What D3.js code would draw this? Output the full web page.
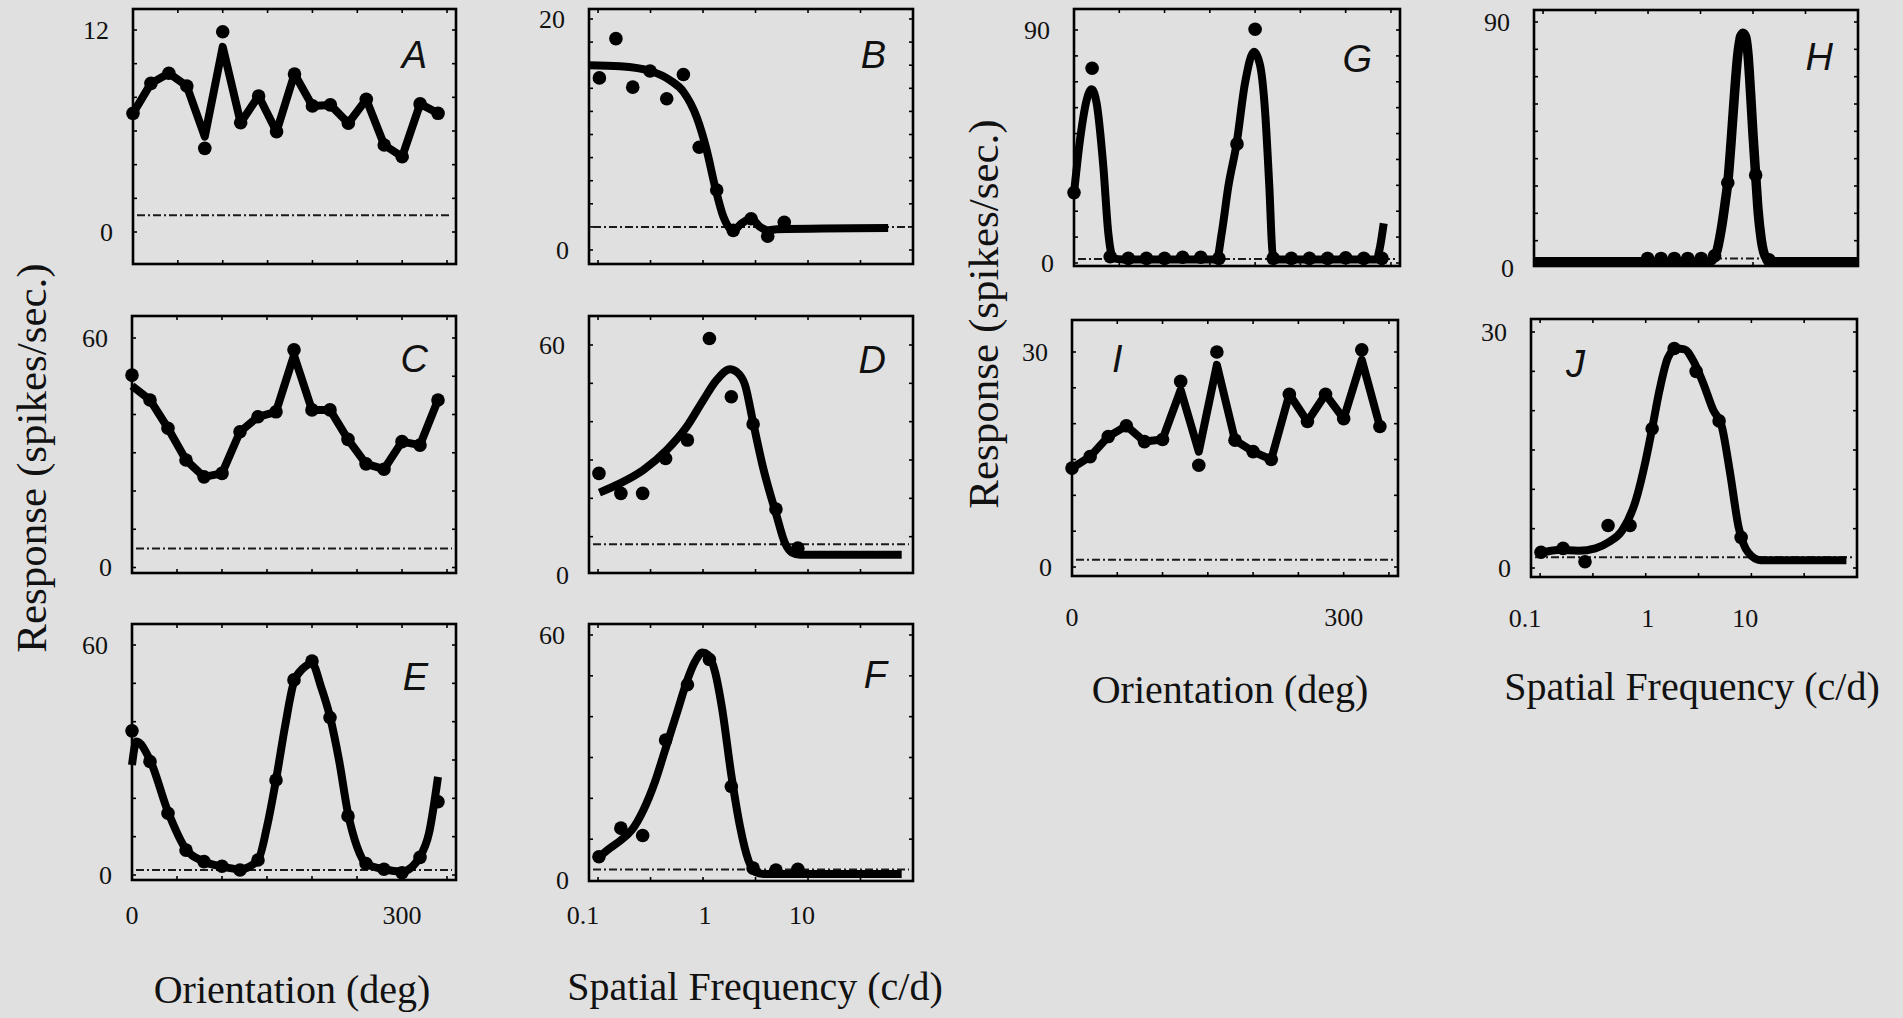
<!DOCTYPE html>
<html>
<head>
<meta charset="utf-8">
<script src="https://cdn.jsdelivr.net/npm/d3@7"></script>
<style>
  html, body { margin: 0; padding: 0; background: #e0e0e0; overflow: hidden; }
  svg { display: block; }
  .num { font-family: "Liberation Serif", "Times New Roman", serif; font-size: 26px; fill: #111; }
  .title { font-family: "Liberation Serif", "Times New Roman", serif; font-size: 40px; fill: #111; }
  .title.rot { font-size: 43px; }
  .tag { font-family: "Liberation Sans", Arial, sans-serif; font-size: 38px; font-style: italic; fill: #111; }
</style>
</head>
<body>
<script>
// ---------- Orientation tuning (deg) ----------
const orientAngles = [0, 20, 40, 60, 80, 100, 120, 140, 160, 180, 200, 220, 240, 260, 280, 300, 320, 340];

const respA = [7.05, 8.83, 9.43, 8.67, 4.97, 11.9, 6.49, 8.08, 5.96, 9.39, 7.49, 7.55, 6.46, 7.88, 5.17, 4.47, 7.61, 7.05];
const fitA  = [7.05, 8.83, 9.43, 8.67, 5.66, 11.0, 6.49, 8.08, 5.96, 9.39, 7.49, 7.55, 6.46, 7.88, 5.17, 4.47, 7.61, 7.05];
const spontA = 1.0;

const respC = [50.3, 43.8, 36.4, 28.1, 23.7, 24.6, 35.5, 39.4, 40.7, 56.9, 41.2, 41.2, 33.5, 27.1, 25.7, 32.9, 32.0, 43.8];
const fitC  = [47.5, 43.8, 36.4, 28.1, 23.7, 24.6, 35.5, 39.4, 40.7, 55.5, 41.2, 41.2, 33.5, 27.1, 25.7, 32.9, 32.0, 43.8];
const spontC = 5.0;

const respE = [37.6, 29.6, 16.1, 6.5, 3.5, 2.3, 1.3, 3.9, 24.8, 50.9, 55.8, 41.1, 15.4, 3.0, 1.5, 0.6, 4.6, 19.1];
const fitAnglesE = [0, 5, 20, 40, 60, 80, 100, 120, 140, 150, 160, 170, 180, 190, 200, 210, 220, 230, 240, 250, 260, 280, 300, 320, 330, 340];
const fitE = [28.7, 34.8, 30.0, 16.5, 6.7, 3.5, 2.2, 1.5, 3.9, 12.6, 24.8, 38.7, 50.4, 53.9, 55.2, 49.1, 41.3, 30.0, 16.1, 7.4, 3.0, 1.5, 0.9, 4.8, 10.9, 25.6];
const spontE = 1.3;

const respG = [27.2, 75.2, 2.4, 1.8, 1.8, 1.8, 2.2, 2.2, 1.8, 46.0, 90.3, 1.8, 1.8, 1.8, 1.8, 2.0, 1.8, 1.8];
const fitAnglesG = [0, 6.6, 14, 19.5, 25, 32.4, 37.9, 43.4, 54, 157.6, 163.1, 170.4, 179.6, 188.8, 198.8, 205.4, 210.9, 215.7, 219.4, 225, 334, 338, 342];
const fitG = [26.9, 47.5, 63.0, 67.1, 61.7, 37.2, 11.5, 1.8, 1.4, 1.4, 11.5, 29.5, 46.2, 69.4, 81.6, 76.5, 59.1, 29.5, 3.7, 1.4, 1.4, 6.3, 15.3];
const spontG = 1.5;

const respI = [13.8, 15.4, 18.2, 19.7, 17.5, 17.8, 25.9, 14.2, 30.0, 17.7, 16.1, 15.0, 24.1, 20.3, 24.1, 20.7, 30.3, 19.6];
const fitI  = [13.8, 15.4, 18.2, 19.7, 17.5, 17.8, 24.7, 16.1, 28.2, 17.7, 16.1, 15.0, 24.1, 20.3, 24.1, 20.7, 28.9, 19.6];
const spontI = 1.0;

// ---------- Spatial frequency tuning (c/d) ----------
const sfB   = [0.103, 0.148, 0.214, 0.313, 0.451, 0.65, 0.92, 1.35, 1.94, 2.87, 4.13, 5.94];
const respB = [14.9, 18.3, 14.1, 15.5, 13.1, 15.2, 8.9, 5.2, 1.7, 2.7, 1.2, 2.4];
const fitSfB = [0.082, 0.162, 0.313, 0.485, 0.65, 0.87, 1.08, 1.30, 1.56, 1.94, 2.33, 2.87, 3.49, 4.19, 5.03, 58];
const fitB   = [16.0, 15.9, 15.5, 14.7, 13.7, 11.5, 8.7, 5.5, 2.9, 1.7, 2.3, 2.7, 2.0, 1.7, 1.8, 1.9];
const spontB = 2.0;

const sfSet = [0.102, 0.165, 0.266, 0.44, 0.71, 1.15, 1.86, 3.0, 4.95, 8.0];

const respD = [26.5, 21.3, 21.3, 30.4, 35.2, 61.7, 46.5, 39.4, 17.2, 7.0];
const fitSfD = [0.103, 0.162, 0.27, 0.451, 0.70, 1.01, 1.35, 1.81, 2.09, 2.51, 3.01, 3.75, 4.95, 6.04, 7.0, 8.4, 78];
const fitD   = [21.5, 23.9, 27.4, 32.6, 38.7, 45.7, 50.9, 53.7, 53.0, 49.6, 39.6, 27.8, 16.1, 8.3, 5.9, 5.3, 5.3];
const spontD = 8.0;

const respF = [5.7, 12.7, 10.9, 34.3, 47.8, 54.0, 22.9, 2.9, 2.45, 2.6];
const fitSfF = [0.103, 0.130, 0.166, 0.209, 0.270, 0.349, 0.435, 0.562, 0.70, 0.84, 0.985, 1.12, 1.30, 1.51, 1.87, 2.25, 2.70, 3.13, 3.75, 78];
const fitF   = [5.7, 7.8, 9.8, 12.2, 17.1, 24.1, 31.8, 40.8, 48.6, 53.5, 55.7, 55.1, 51.0, 42.4, 25.3, 13.1, 4.9, 2.0, 1.5, 1.5];
const spontF = 2.6;

const sfH   = [0.99, 1.33, 1.78, 2.39, 3.21, 4.3, 5.75, 7.94, 10.6, 14.2];
const respH = [3.5, 3.5, 3.5, 3.5, 3.5, 4.5, 31.2, 84.4, 34.0, 3.0];
const fitSfH = [0.082, 3.85, 4.45, 4.97, 5.47, 5.75, 6.20, 6.67, 7.18, 7.56, 8.02, 8.50, 8.94, 9.48, 9.98, 10.6, 11.1, 12.0, 13.4, 15.0, 99];
const fitH   = [2.3, 2.3, 5.3, 13.9, 24.9, 31.2, 46.8, 63.9, 78.5, 84.0, 85.9, 84.6, 78.5, 63.9, 49.3, 34.0, 22.4, 10.2, 3.5, 2.3, 2.3];
const spontH = 3.5;

const respJ = [2.0, 2.5, 0.8, 5.4, 5.4, 17.7, 27.9, 25.0, 18.7, 3.9];
const fitSfJ = [0.101, 0.149, 0.231, 0.334, 0.448, 0.60, 0.805, 1.0, 1.16, 1.35, 1.62, 1.95, 2.33, 2.80, 3.50, 4.35, 5.25, 6.30, 7.57, 9.42, 12.2, 79.4];
const fitJ   = [1.9, 2.3, 2.2, 2.5, 3.3, 4.8, 8.6, 13.7, 18.0, 22.6, 26.7, 27.9, 27.8, 26.4, 23.5, 20.1, 18.0, 12.0, 5.2, 1.9, 1.0, 1.0];
const spontJ = 1.36;

// ---------- Tick labels ----------
const orientTickLabels = [0, 300];
const sfTickLabels = [0.1, 1, 10];
const yLabelsA = [0, 12];
const yLabelsB = [0, 20];
const yLabels60 = [0, 60];
const yLabels90 = [0, 90];
const yLabels30 = [0, 30];

// ---------- Layout ----------
const W = 1903, H = 1018;
const svg = d3.select("body").append("svg").attr("width", W).attr("height", H);
svg.append("rect").attr("width", W).attr("height", H).attr("fill", "#e0e0e0");

const SF_DOMAIN = [0.082, 100];
const LINE_W = 8, DOT_R = 6.8;

const panels = [
  { tag: "A", kind: "ori", box: [133, 456, 9, 264],    yPix: [232, 30],    yLabels: yLabelsA, yStep: 2,
    x: orientAngles, y: respA, fx: orientAngles, fy: fitA, spont: spontA, smooth: false, tagAt: [427, 68, "end"] },
  { tag: "B", kind: "sf",  box: [589, 913, 9, 264],    yPix: [250, 19],    yLabels: yLabelsB, yStep: 2,
    x: sfB, y: respB, fx: fitSfB, fy: fitB, spont: spontB, smooth: true, tagAt: [886, 68, "end"] },
  { tag: "C", kind: "ori", box: [132, 456, 316, 573],  yPix: [567.5, 338], yLabels: yLabels60, yStep: 10,
    x: orientAngles, y: respC, fx: orientAngles, fy: fitC, spont: spontC, smooth: false, tagAt: [428, 372, "end"] },
  { tag: "D", kind: "sf",  box: [589, 913, 316, 573],  yPix: [575, 345],   yLabels: yLabels60, yStep: 10,
    x: sfSet, y: respD, fx: fitSfD, fy: fitD, spont: spontD, smooth: true, tagAt: [886, 373, "end"] },
  { tag: "E", kind: "ori", box: [132, 456, 624, 880],  yPix: [875, 645],   yLabels: yLabels60, yStep: 10,
    x: orientAngles, y: respE, fx: fitAnglesE, fy: fitE, spont: spontE, smooth: true, tagAt: [428, 690, "end"],
    xLabelY: 915 },
  { tag: "F", kind: "sf",  box: [589, 913, 624, 881],  yPix: [880, 635],   yLabels: yLabels60, yStep: 10,
    x: sfSet, y: respF, fx: fitSfF, fy: fitF, spont: spontF, smooth: true, tagAt: [887, 688, "end"],
    xLabelY: 915 },
  { tag: "G", kind: "ori", box: [1074, 1400, 9, 266],  yPix: [263, 30],    yLabels: yLabels90, yStep: 10,
    x: orientAngles, y: respG, fx: fitAnglesG, fy: fitG, spont: spontG, smooth: true, tagAt: [1372, 72, "end"] },
  { tag: "H", kind: "sf",  box: [1534, 1858, 10, 266], yPix: [268, 22],    yLabels: yLabels90, yStep: 10,
    x: sfH, y: respH, fx: fitSfH, fy: fitH, spont: spontH, smooth: true, tagAt: [1833, 70, "end"], lineW: 9.5 },
  { tag: "I", kind: "ori", box: [1072, 1398, 320, 576], yPix: [567, 352],  yLabels: yLabels30, yStep: 5,
    x: orientAngles, y: respI, fx: orientAngles, fy: fitI, spont: spontI, smooth: false, tagAt: [1112, 372, "start"],
    xLabelY: 617 },
  { tag: "J", kind: "sf",  box: [1531, 1857, 319, 577], yPix: [568, 332],  yLabels: yLabels30, yStep: 5,
    x: sfSet, y: respJ, fx: fitSfJ, fy: fitJ, spont: spontJ, smooth: true, tagAt: [1566, 377, "start"],
    xLabelY: 618 }
];

// horizontal nudges for the log-axis labels
const sfLabelDx = { 0.1: -15, 1: 2, 10: -6 };

panels.forEach(p => {
  const [x0, x1, y0, y1] = p.box;
  const xs = p.kind === "ori"
    ? d3.scaleLinear().domain([0, 360]).range([x0, x1])
    : d3.scaleLog().domain(SF_DOMAIN).range([x0, x1]);
  const yMax = p.yLabels[p.yLabels.length - 1];
  const ys = d3.scaleLinear().domain([0, yMax]).range(p.yPix);

  const g = svg.append("g");

  // spontaneous-rate reference (dash-dot)
  g.append("line")
    .attr("x1", x0 + 4).attr("x2", x1 - 4)
    .attr("y1", ys(p.spont)).attr("y2", ys(p.spont))
    .attr("stroke", "#1a1a1a").attr("stroke-width", 2)
    .attr("stroke-dasharray", "8,3,2,3");

  // tuning curve
  const fitPts = p.fx.map((v, i) => [v, p.fy[i]]);
  const line = d3.line()
    .x(d => xs(d[0])).y(d => ys(d[1]))
    .curve(p.smooth ? d3.curveMonotoneX : d3.curveLinear);
  g.append("path").datum(fitPts)
    .attr("d", line)
    .attr("fill", "none").attr("stroke", "#000")
    .attr("stroke-width", p.lineW || LINE_W)
    .attr("stroke-linejoin", "round").attr("stroke-linecap", "butt");

  // measured responses
  g.selectAll("circle.pt").data(p.x.map((v, i) => [v, p.y[i]])).join("circle")
    .attr("class", "pt")
    .attr("cx", d => xs(d[0])).attr("cy", d => ys(d[1]))
    .attr("r", DOT_R).attr("fill", "#000");

  // frame
  g.append("rect")
    .attr("x", x0).attr("y", y0).attr("width", x1 - x0).attr("height", y1 - y0)
    .attr("fill", "none").attr("stroke", "#000").attr("stroke-width", 2.6);

  // inward ticks on all four sides
  const tl = 4;
  const xTicks = p.kind === "ori"
    ? d3.range(50, 360, 50)
    : [-1, -0.5, 0, 0.5, 1, 1.5].map(e => Math.pow(10, e));
  xTicks.forEach(t => {
    const X = xs(t);
    g.append("line").attr("x1", X).attr("x2", X).attr("y1", y0).attr("y2", y0 + tl)
      .attr("stroke", "#000").attr("stroke-width", 1.6);
    g.append("line").attr("x1", X).attr("x2", X).attr("y1", y1).attr("y2", y1 - tl)
      .attr("stroke", "#000").attr("stroke-width", 1.6);
  });
  d3.range(0, yMax + 1e-9, p.yStep).forEach(t => {
    const Y = ys(t);
    if (Y <= y0 + 2 || Y >= y1 - 2) return;
    g.append("line").attr("x1", x0).attr("x2", x0 + tl).attr("y1", Y).attr("y2", Y)
      .attr("stroke", "#000").attr("stroke-width", 1.6);
    g.append("line").attr("x1", x1).attr("x2", x1 - tl).attr("y1", Y).attr("y2", Y)
      .attr("stroke", "#000").attr("stroke-width", 1.6);
  });

  // y tick labels
  p.yLabels.forEach(v => {
    g.append("text").attr("class", "num")
      .attr("x", x0 - (v === 0 ? 20 : 24)).attr("y", ys(v))
      .attr("dy", "0.34em").attr("text-anchor", "end")
      .text(v);
  });

  // x tick labels (bottom row only)
  if (p.xLabelY !== undefined) {
    const labs = p.kind === "ori" ? orientTickLabels : sfTickLabels;
    labs.forEach(v => {
      const dx = p.kind === "ori" ? 0 : sfLabelDx[v];
      g.append("text").attr("class", "num")
        .attr("x", xs(v) + dx).attr("y", p.xLabelY)
        .attr("dy", "0.34em").attr("text-anchor", "middle")
        .text(v);
    });
  }

  // panel letter
  g.append("text").attr("class", "tag")
    .attr("x", p.tagAt[0]).attr("y", p.tagAt[1])
    .attr("text-anchor", p.tagAt[2])
    .text(p.tag);
});

// axis titles
const titles = [
  { text: "Orientation (deg)", x: 292, y: 1003, rot: false },
  { text: "Spatial Frequency (c/d)", x: 755, y: 1000, rot: false },
  { text: "Orientation (deg)", x: 1230, y: 703, rot: false },
  { text: "Spatial Frequency (c/d)", x: 1692, y: 700, rot: false },
  { text: "Response (spikes/sec.)", x: 46, y: 458, rot: true },
  { text: "Response (spikes/sec.)", x: 998, y: 314, rot: true }
];
titles.forEach(t => {
  svg.append("text").attr("class", t.rot ? "title rot" : "title")
    .attr("text-anchor", "middle")
    .attr("transform", t.rot ? `translate(${t.x},${t.y}) rotate(-90)` : `translate(${t.x},${t.y})`)
    .text(t.text);
});
</script>
</body>
</html>
